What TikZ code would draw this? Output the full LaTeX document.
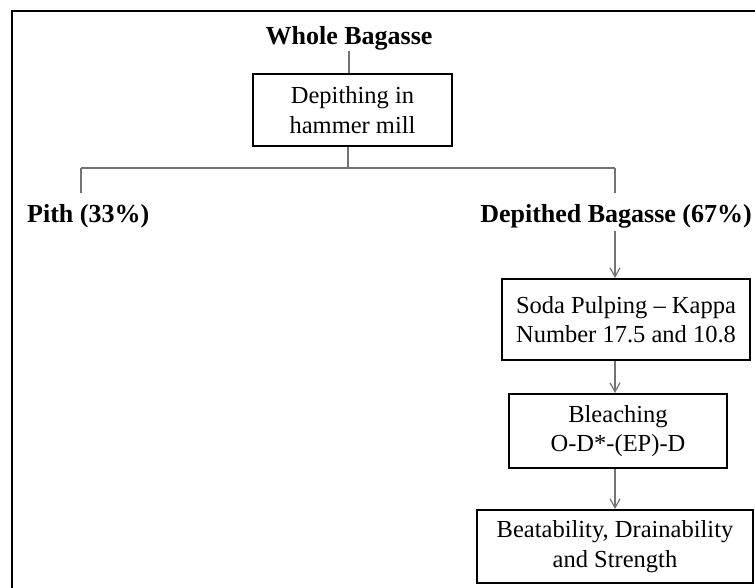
\documentclass[tikz,border=0pt]{standalone}
\usepackage{fontspec}
\setmainfont{Liberation Serif}
\usetikzlibrary{positioning,arrows.meta}
\tikzset{
block/.style = {draw, line width=2pt, fill=white, rectangle, align=center, inner sep=0pt,
  font=\fontsize{24.5}{29.5}\selectfont},
heading/.style = {inner sep=0pt, font=\fontsize{26}{30}\selectfont\bfseries},
link/.style = {draw=black!55, line width=1.2pt},
tmp/.style = {coordinate}
}

\begin{document}
\begin{tikzpicture}[x=1pt, y=-1pt, >={Straight Barb[length=9pt,width=10pt]}]
    \useasboundingbox (0,0) rectangle (755,588);
    \clip (0,0) rectangle (755,588);
    % outer frame
    \draw [line width=2.2pt] (12,600) -- (12,11) -- (770,11);

    % We start by placing the blocks
    \node [heading, anchor=base] (whole) at (349,45) {Whole Bagasse};
    \node [block, minimum width=199pt, minimum height=72pt] (depith) at (352.5,110) {Depithing in\\hammer mill};
    \node [tmp] (split) at (348,168) {};
    \node [tmp] (lft) at (81,168) {};
    \node [tmp] (rgt) at (615,168) {};
    \node [tmp, below of=lft, node distance=25pt] (lftend) {};
    \node [tmp, below of=rgt, node distance=25pt] (rgtend) {};
    \node [heading, anchor=base west] (pith) at (27,223) {Pith (33\%)};
    \node [heading, anchor=base east] (dep) at (752,223) {Depithed Bagasse (67\%)};
    \node [block, minimum width=248pt, minimum height=81pt] (soda) at (626,319.5) {Soda Pulping -- Kappa\\Number 17.5 and 10.8};
    \node [block, minimum width=218pt, minimum height=74pt, below of=soda, node distance=111.5pt, xshift=-8pt] (bleach) {Bleaching\\O-D*-(EP)-D};
    \node [block, minimum width=276pt, minimum height=73pt, below of=bleach, node distance=115.5pt, xshift=-3pt] (final) {Beatability, Drainability\\and Strength};

    % Once the nodes are placed, connecting them is easy.
    \draw [link] (whole.south) -- (whole.south |- depith.north);
    \draw [link] (split |- depith.south) -- (split);
    \draw [link] (lft) -- (rgt);
    \draw [link] (lft) -- (lftend);
    \draw [link] (rgt) -- (rgtend);
    \draw [link, ->] ([yshift=-2pt]rgt |- dep.south) -- (rgt |- soda.north);
    \draw [link, ->] (rgt |- soda.south) -- (rgt |- bleach.north);
    \draw [link, ->] (rgt |- bleach.south) -- (rgt |- final.north);
\end{tikzpicture}
\end{document}
